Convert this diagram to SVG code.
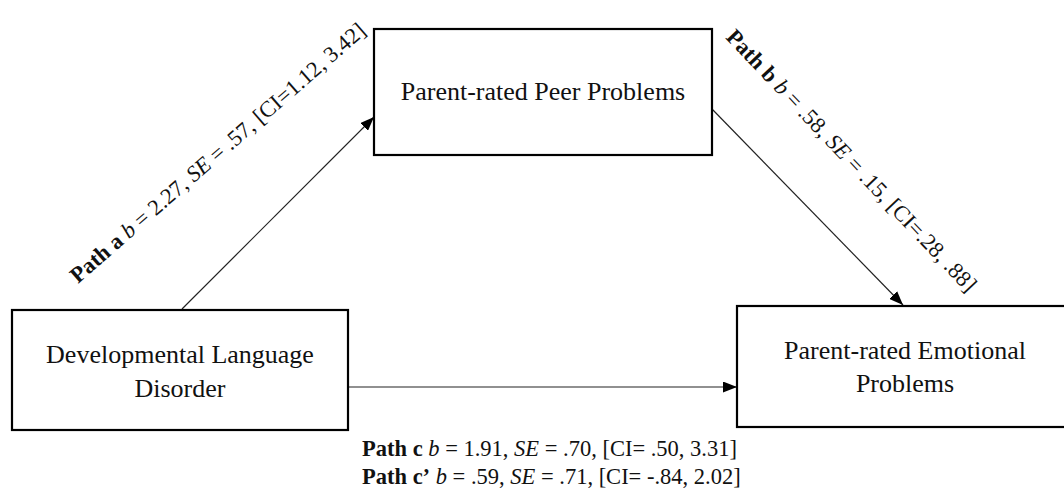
<svg xmlns="http://www.w3.org/2000/svg" width="1064" height="496" viewBox="0 0 1064 496">
<style>
.box{fill:#fff;stroke:#000;stroke-width:2.2}
.lbl{font-family:"Liberation Serif","Times New Roman",serif;font-size:26px;fill:#111;text-anchor:middle}
.path{font-family:"Liberation Serif","Times New Roman",serif;font-size:22.5px;fill:#111}
.conn{stroke:#222;stroke-width:1.2;fill:none;marker-end:url(#ah)}
.b{font-weight:bold}
.i{font-style:italic}
</style>
<defs>
<marker id="ah" viewBox="0 0 14 11" refX="14" refY="5.5" markerWidth="14" markerHeight="11" markerUnits="userSpaceOnUse" orient="auto">
<path d="M0,0 L14,5.5 L0,11 z" fill="#000"/>
</marker>
</defs>
<rect width="1064" height="496" fill="#fff"/>
<g id="connectors">
<line class="conn" x1="182" y1="309" x2="374" y2="117"/>
<line class="conn" x1="712" y1="109" x2="903" y2="305"/>
<line class="conn" x1="348" y1="387" x2="737" y2="387"/>
</g>
<g id="node-dld">
<rect class="box" x="12" y="310" width="336" height="120"/>
<text class="lbl" x="180" y="363">Developmental Language</text>
<text class="lbl" x="180" y="397">Disorder</text>
</g>
<g id="node-peer">
<rect class="box" x="374" y="29" width="338" height="126"/>
<text class="lbl" x="543" y="100">Parent-rated Peer Problems</text>
</g>
<g id="node-emo">
<rect class="box" x="737" y="306" width="340" height="121"/>
<text class="lbl" x="905" y="359">Parent-rated Emotional</text>
<text class="lbl" x="905" y="392">Problems</text>
</g>
<g id="label-a">
<text class="path" transform="translate(78,284) rotate(-41)" textLength="383" lengthAdjust="spacing"><tspan class="b">Path a</tspan> <tspan class="i">b</tspan> = 2.27, <tspan class="i">SE</tspan> = .57, [CI=1.12, 3.42]</text>
</g>
<g id="label-b">
<text class="path" transform="translate(725,38) rotate(46.5)" textLength="352" lengthAdjust="spacing"><tspan class="b">Path b</tspan> <tspan class="i">b</tspan> = .58, <tspan class="i">SE</tspan> = .15, [CI=.28, .88]</text>
</g>
<g id="label-c">
<text class="path" x="362" y="456" font-size="22"><tspan class="b">Path c</tspan> <tspan class="i">b</tspan> = 1.91, <tspan class="i">SE</tspan> = .70, [CI= .50, 3.31]</text>
<text class="path" x="362" y="484" font-size="22"><tspan class="b">Path c’</tspan> <tspan class="i">b</tspan> = .59, <tspan class="i">SE</tspan> = .71, [CI= -.84, 2.02]</text>
</g>
</svg>
